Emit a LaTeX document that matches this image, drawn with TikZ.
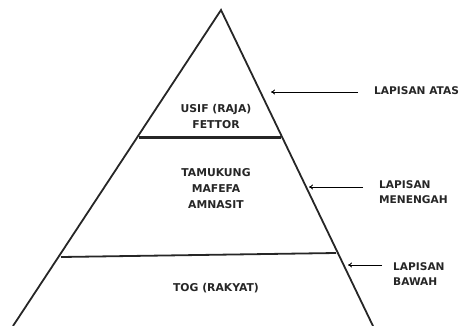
\documentclass[tikz,border=0pt]{standalone}
\usepackage{fontspec}
\setmainfont{DejaVu Sans}
\usetikzlibrary{arrows.meta}
\begin{document}
\begin{tikzpicture}[x=1pt,y=-1pt,
  lbl/.style={font=\bfseries\fontsize{10.8}{16}\selectfont,text=black!85,align=center,inner sep=0pt},
  side/.style={font=\bfseries\fontsize{10.6}{15.5}\selectfont,text=black!85,align=left,anchor=west,inner sep=0pt},
  edge/.style={line width=1.8pt,black!85},
  ptr/.style={line width=0.9pt,-{To[length=4pt,width=5pt]}}]
\useasboundingbox (0,0) rectangle (459,325);
\coordinate (apex) at (221,10);
\coordinate (bl) at (13,326);
\coordinate (br) at (373,326);
\draw[edge] (bl) -- (apex) -- (br);
\coordinate (u1) at (139,137);
\coordinate (u2) at (281,137);
\draw[line width=3pt,black!85] (u1) -- (u2);
\coordinate (l1) at (61,257);
\coordinate (l2) at (336,253);
\draw[line width=1.8pt,black!85] (l1) -- (l2);
\node[lbl] (usif) at (216,116) {USIF (RAJA)\\FETTOR};
\node[lbl] (tam) at (216,189) {TAMUKUNG\\MAFEFA\\AMNASIT};
\node[lbl] (tog) at (216,288) {TOG (RAKYAT)};
\node[side] (atas) at (374,91) {LAPISAN ATAS};
\node[side] (men) at (379,192) {LAPISAN\\MENENGAH};
\node[side] (baw) at (393,274) {LAPISAN\\BAWAH};
\coordinate (a1s) at (358,92);
\coordinate (a1e) at (271,92);
\coordinate (a2s) at (363,187);
\coordinate (a2e) at (309,187);
\coordinate (a3s) at (382,265);
\coordinate (a3e) at (348,265);
\draw[ptr] (a1s) -- (a1e);
\draw[ptr] (a2s) -- (a2e);
\draw[ptr] (a3s) -- (a3e);
\end{tikzpicture}
\end{document}
